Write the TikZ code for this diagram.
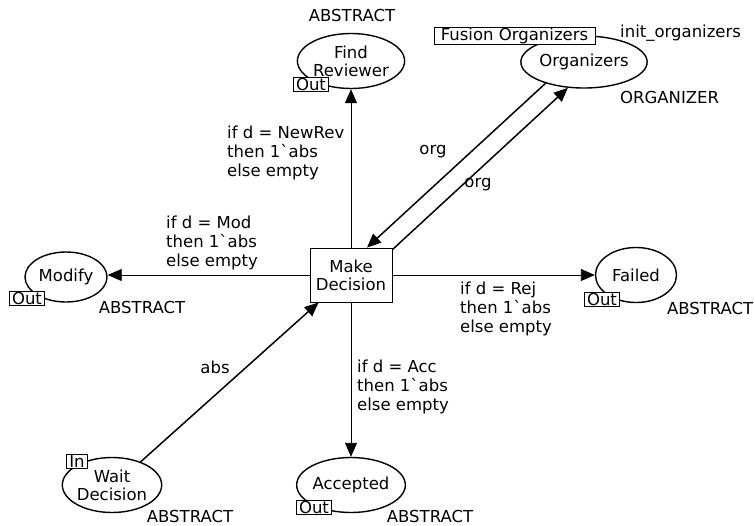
\documentclass[tikz,border=0pt]{standalone}
\usetikzlibrary{shapes.geometric,arrows.meta}
\font\netfont="DejaVu Sans" at 16.5pt
\newcommand\labelfont{\netfont\baselineskip=19pt\relax}
\newcommand\placefont{\netfont\baselineskip=18pt\relax}
\begin{document}
\begin{tikzpicture}[x=1pt,y=-1pt,
  every node/.style={font=\labelfont, inner sep=0pt},
  place/.style={ellipse, draw, line width=1.4pt, align=center, font=\placefont},
  trans/.style={rectangle, draw, line width=0.9pt, minimum width=82pt, minimum height=54pt, align=center, font=\placefont},
  porttag/.style={draw, fill=white, line width=0.8pt, inner xsep=2.5pt, inner ysep=0.5pt, minimum height=14pt},
  arc/.style={-{Triangle[length=14pt,width=12pt]}, line width=0.9pt},
  darc/.style={arc, line width=1.5pt},
  inscr/.style={align=left, anchor=west},
]
\useasboundingbox (0,0) rectangle (754,525);

% transition
\node[trans] (md) at (351,275) {Make\\Decision};

% places
\node[place, minimum width=96pt, minimum height=55pt] (fr) at (351,61) {Find\\Reviewer};
\node[place, minimum width=97pt, minimum height=52pt] (org) at (584,62) {Organizers};
\node[place, minimum width=82pt, minimum height=50pt] (mod) at (66,277) {Modify};
\node[place, minimum width=81pt, minimum height=55pt] (fail) at (636,275) {Failed};
\node[place, minimum width=91pt, minimum height=55pt] (acc) at (351,485) {Accepted};
\node[place, minimum width=89pt, minimum height=55pt] (wd) at (112,485) {Wait\\Decision};

% port and fusion tags
\node[porttag] (frout) at (311,84.5) {Out};
\node[porttag] (modout) at (27,298) {Out};
\node[porttag] (failout) at (602,299) {Out};
\node[porttag] (accout) at (314,507) {Out};
\node[porttag] (wdin) at (77,461) {In};
\node[porttag, minimum width=161pt, minimum height=15pt] (fus) at (514.5,35.5) {Fusion Organizers};

% colour sets and initial marking
\node (frcs) at (352,15) {ABSTRACT};
\node (modcs) at (142,307) {ABSTRACT};
\node[anchor=east] (failcs) at (753.5,308) {ABSTRACT};
\node (acccs) at (430,516) {ABSTRACT};
\node (wdcs) at (190,516) {ABSTRACT};
\node[anchor=west] (orgcs) at (620,97) {ORGANIZER};
\node[anchor=west] (orginit) at (620,33) {init\_organizers};

% arcs
\draw[arc] (md.north) -- (fr.south);
\draw[arc] (md.west) -- (md.west -| mod.east);
\draw[arc] (md.east) -- (fail.west);
\draw[arc] (md.south) -- (acc.north);
\draw[darc] (wd.39) -- ([xshift=9pt]md.south west);
\draw[darc] (org.209) -- ([xshift=16pt]md.north);
\draw[darc] ([yshift=-2pt]md.north east) -- (org.238);

% arc inscriptions
\node[inscr] (inrev) at (227,153) {if d = NewRev\\then 1`abs\\else empty};
\node[inscr] (inmod) at (166,243) {if d = Mod\\then 1`abs\\else empty};
\node[inscr] (inrej) at (460,309) {if d = Rej\\then 1`abs\\else empty};
\node[inscr] (inacc) at (357,387) {if d = Acc\\then 1`abs\\else empty};
\node (inorga) at (433,152) {org};
\node (inorgb) at (478,185) {org};
\node (inabs) at (215,367) {abs};
\end{tikzpicture}
\end{document}
